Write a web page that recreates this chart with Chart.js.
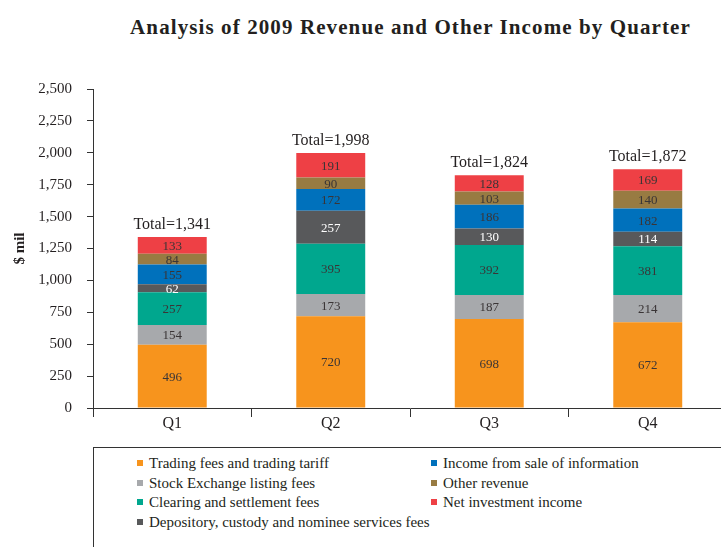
<!DOCTYPE html>
<html>
<head>
<meta charset="utf-8">
<script src="https://cdn.jsdelivr.net/npm/chart.js@4.4.1/dist/chart.umd.min.js"></script>
<style>
  html, body { margin: 0; padding: 0; background: #fff; overflow: hidden; width: 721px; height: 547px; }
  #title { position: absolute; left: 0; width: 821px; top: 15px; text-align: center;
           font-family: "Liberation Serif", serif; font-weight: bold; font-size: 21px; letter-spacing: 1.1px; color: #231f20; white-space: nowrap; }
  #wrap { position: absolute; left: 0; top: 0; }
  #legend { position: absolute; left: 93px; top: 447px; width: 700px; height: 120px;
            border-top: 1.5px solid #333; border-left: 1.5px solid #333; box-sizing: border-box;
            font-family: "Liberation Serif", serif; font-size: 15px; color: #231f20; }
  .item { position: absolute; white-space: nowrap; line-height: 18px; }
  .sw { position: absolute; width: 6px; height: 6px; left: -12px; top: 6px; }
</style>
</head>
<body>
<div id="title">Analysis of 2009 Revenue and Other Income by Quarter</div>
<div id="wrap"><canvas id="c" width="740" height="440"></canvas></div>
<div id="legend"></div>
<script>
const categories = ["Q1", "Q2", "Q3", "Q4"];
const seriesNames = [
  "Trading fees and trading tariff",
  "Stock Exchange listing fees",
  "Clearing and settlement fees",
  "Depository, custody and nominee services fees",
  "Income from sale of information",
  "Other revenue",
  "Net investment income"
];
const tradingFees   = [496, 720, 698, 672];
const listingFees   = [154, 173, 187, 214];
const clearingFees  = [257, 395, 392, 381];
const depositoryFees= [62, 257, 130, 114];
const infoIncome    = [155, 172, 186, 182];
const otherRevenue  = [84, 90, 103, 140];
const netInvestment = [133, 191, 128, 169];
const yTicks = [0, 250, 500, 750, 1000, 1250, 1500, 1750, 2000, 2250, 2500];
const seriesColors = ["#F7941D", "#A7A9AC", "#00A78E", "#58595B", "#0071BC", "#987B42", "#EE4045"];
const labelColors  = ["#3a3536", "#3a3536", "#3a3536", "#ffffff", "#3a3536", "#3a3536", "#3a3536"];

const seriesValues = [tradingFees, listingFees, clearingFees, depositoryFees, infoIncome, otherRevenue, netInvestment];
const fmt = v => v.toLocaleString("en-US");

const datasets = seriesNames.map((name, i) => ({
  label: name,
  data: seriesValues[i],
  backgroundColor: seriesColors[i],
  borderWidth: 0,
  barPercentage: 0.435,
  categoryPercentage: 1.0
}));

const serif = "'Liberation Serif', serif";

const labelPlugin = {
  id: "labels",
  afterDatasetsDraw(chart) {
    const ctx = chart.ctx;
    ctx.save();
    ctx.textAlign = "center";
    ctx.textBaseline = "middle";
    ctx.font = "13px " + serif;
    chart.data.datasets.forEach((ds, di) => {
      const meta = chart.getDatasetMeta(di);
      meta.data.forEach((el, j) => {
        ctx.fillStyle = labelColors[di];
        ctx.fillText(fmt(ds.data[j]), el.x, (el.y + el.base) / 2 + 1);
      });
    });
    // totals
    const last = chart.getDatasetMeta(chart.data.datasets.length - 1);
    ctx.font = "16px " + serif;
    ctx.fillStyle = "#231f20";
    ctx.textBaseline = "alphabetic";
    categories.forEach((c, j) => {
      const total = seriesValues.reduce((s, arr) => s + arr[j], 0);
      const el = last.data[j];
      ctx.fillText("Total=" + fmt(total), el.x, el.y - 8);
    });
    ctx.restore();
  }
};

new Chart(document.getElementById("c"), {
  type: "bar",
  data: { labels: categories, datasets },
  options: {
    responsive: false,
    animation: false,
    layout: { padding: { top: 89, right: 13, left: 0, bottom: 0 } },
    plugins: { legend: { display: false }, tooltip: { enabled: false }, title: { display: false } },
    scales: {
      x: {
        stacked: true,
        grid: { display: true, drawOnChartArea: false, drawTicks: true, tickLength: 9, offset: true, color: "#333", lineWidth: 1 },
        border: { display: true, color: "#333", width: 1 },
        ticks: { font: { family: serif, size: 16 }, color: "#231f20", padding: -3 },
        afterFit(s) { s.height = 32; }
      },
      y: {
        stacked: true,
        min: 0, max: 2500,
        afterBuildTicks(s) { s.ticks = yTicks.map(v => ({ value: v })); },
        grid: { display: true, drawOnChartArea: false, drawTicks: true, tickLength: 6, color: "#333", lineWidth: 1 },
        border: { display: true, color: "#333", width: 1 },
        ticks: { font: { family: serif, size: 15 }, color: "#231f20", padding: 15, callback: v => fmt(v) },
        title: { display: true, text: "$ mil", font: { family: serif, size: 15, weight: "bold" }, color: "#231f20", padding: { top: 11, bottom: 0 } },
        afterFit(s) { s.width = 93; }
      }
    }
  },
  plugins: [labelPlugin]
});

// legend (two columns)
const legend = document.getElementById("legend");
const positions = [
  [55, 6], [55, 25.5], [55, 45], [55, 64.5],
  [349, 6], [349, 25.5], [349, 45]
];
seriesNames.forEach((name, i) => {
  const d = document.createElement("div");
  d.className = "item";
  d.style.left = positions[i][0] + "px";
  d.style.top = positions[i][1] + "px";
  const sw = document.createElement("span");
  sw.className = "sw";
  sw.style.background = seriesColors[i];
  d.appendChild(sw);
  d.appendChild(document.createTextNode(name));
  legend.appendChild(d);
});
</script>
</body>
</html>
